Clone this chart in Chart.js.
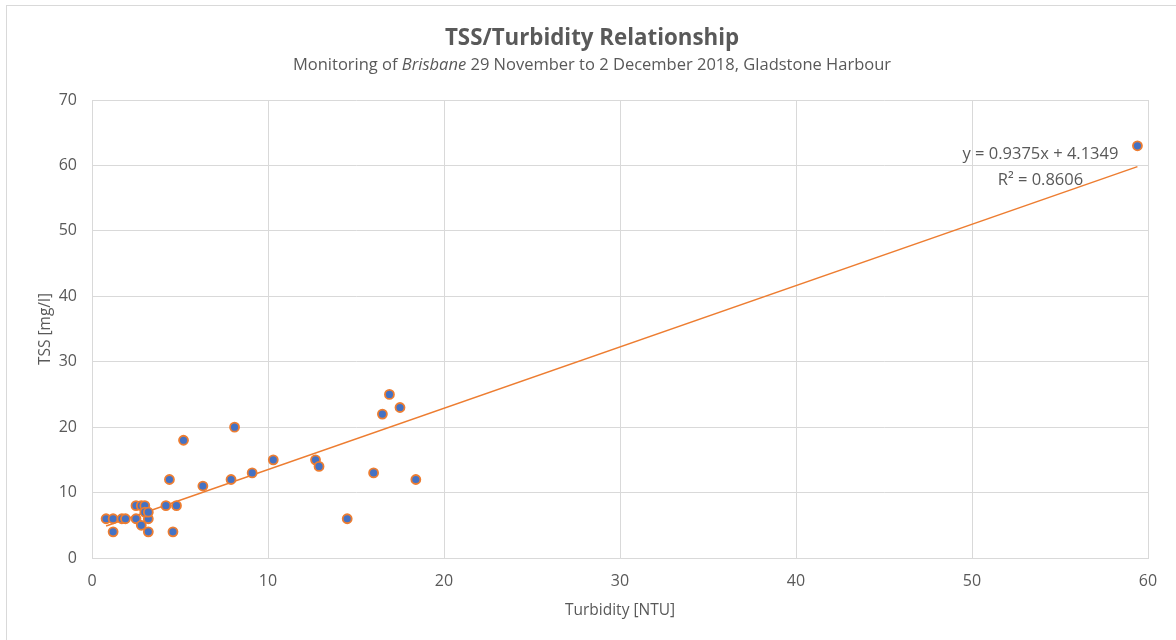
<!DOCTYPE html>
<html>
<head>
<meta charset="utf-8">
<script src="https://cdn.jsdelivr.net/npm/chart.js@4.4.0/dist/chart.umd.min.js"></script>
<style>
html,body{margin:0;padding:0;background:#fff;}
#wrap{position:relative;width:1176px;height:640px;}
#frame{position:absolute;left:6px;top:5px;width:1200px;height:700px;border:1px solid #D9D9D9;box-sizing:border-box;pointer-events:none;}
</style>
</head>
<body>
<div id="wrap">
<canvas id="c" width="1176" height="640"></canvas>
<div id="frame"></div>
</div>
<script>
const turbidity = [0.8,1.2,1.7,1.9,2.5,3.2,1.2,2.8,3.2,4.6,2.5,2.8,3.0,3.0,3.2,4.2,4.8,4.4,5.2,6.3,7.9,8.1,9.1,10.3,12.7,12.9,14.5,16.0,16.5,16.9,17.5,18.4,59.4];
const tss       = [6,  6,  6,  6,  6,  6,  4,  5,  4,  4,  8,  8,  8,  7,  7,  8,  8,  12, 18, 11, 12, 20, 13, 15, 15, 14, 6,  13, 22, 25, 23, 12, 63];
const trendSlope = 0.9375;
const trendIntercept = 4.1349;
const rSquared = 0.8606;
const xTicks = [0,10,20,30,40,50,60];
const yTicks = [0,10,20,30,40,50,60,70];

const FONT = "'Open Sans', Lato, sans-serif";
const TXT = '#595959';

const points = turbidity.map((x,i)=>({x:x,y:tss[i]}));
const xmin = Math.min(...turbidity), xmax = Math.max(...turbidity);
const trend = [{x:xmin,y:trendSlope*xmin+trendIntercept},{x:xmax,y:trendSlope*xmax+trendIntercept}];

const titlePlugin = {
  id:'titles',
  afterDraw(chart){
    const ctx = chart.ctx;
    ctx.save();
    ctx.fillStyle = TXT;
    ctx.textBaseline = 'middle';
    ctx.textAlign = 'center';
    ctx.font = "bold 22.3px " + FONT;
    ctx.fillText('TSS/Turbidity Relationship', 592, 39);
    const parts = [
      {t:'Monitoring of ', f:"16.5px " + FONT},
      {t:'Brisbane', f:"italic 16.5px " + FONT},
      {t:' 29 November to 2 December 2018, Gladstone Harbour', f:"16.5px " + FONT}
    ];
    let total = 0;
    parts.forEach(p=>{ctx.font=p.f; p.w=ctx.measureText(p.t).width; total+=p.w;});
    let x = 592 - total/2;
    ctx.textAlign = 'left';
    parts.forEach(p=>{ctx.font=p.f; ctx.fillText(p.t,x,65); x+=p.w;});
    ctx.textAlign = 'center';
    ctx.font = "16.5px " + FONT;
    const xs = chart.scales.x, ys = chart.scales.y;
    const lx = xs.getPixelForValue(xmax) - 97;
    const ly = ys.getPixelForValue(trendSlope*xmax+trendIntercept);
    ctx.fillText('y = ' + trendSlope + 'x + ' + trendIntercept, lx, ly - 12);
    ctx.fillText('R² = ' + rSquared, lx, ly + 14);
    ctx.restore();
  }
};

new Chart(document.getElementById('c'), {
  type:'scatter',
  data:{
    datasets:[
      {
        type:'line',
        label:'Trend',
        data:trend,
        borderColor:'#ED7D31',
        borderWidth:1.5,
        pointRadius:0,
        fill:false,
        order:2
      },
      {
        label:'TSS',
        data:points,
        backgroundColor:'#4472C4',
        borderColor:'#ED7D31',
        borderWidth:1.8,
        pointRadius:4.5,
        order:1
      }
    ]
  },
  options:{
    responsive:false,
    animation:false,
    layout:{padding:{top:100,right:28,left:36,bottom:20}},
    plugins:{legend:{display:false},tooltip:{enabled:false},title:{display:false}},
    scales:{
      x:{
        type:'linear',
        min:0,max:60,
        afterBuildTicks(s){ s.ticks = xTicks.map(v=>({value:v})); },
        afterFit(s){ s.height = 640-20-558; },
        grid:{color:'#D9D9D9',lineWidth:1,drawTicks:false},
        border:{color:'#D9D9D9'},
        ticks:{color:TXT,font:{family:FONT,size:16},padding:14},
        title:{display:true,text:'Turbidity [NTU]',color:TXT,font:{family:FONT,size:15.5},padding:{top:2,bottom:0}}
      },
      y:{
        type:'linear',
        min:0,max:70,
        afterBuildTicks(s){ s.ticks = yTicks.map(v=>({value:v})); },
        afterFit(s){ s.width = 92-36; },
        grid:{color:'#D9D9D9',lineWidth:1,drawTicks:false},
        border:{color:'#D9D9D9'},
        ticks:{color:TXT,font:{family:FONT,size:16},padding:15},
        title:{display:true,text:'TSS [mg/l]',color:TXT,font:{family:FONT,size:15.5},padding:{top:0,bottom:4}}
      }
    }
  },
  plugins:[titlePlugin]
});
</script>
</body>
</html>
